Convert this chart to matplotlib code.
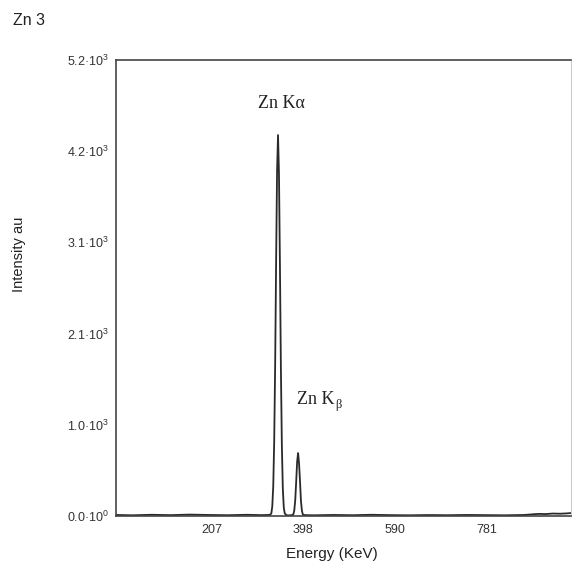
import matplotlib.pyplot as plt

# EDX spectrum of sample "Zn 3"

energy = [6, 40, 80, 120, 160, 200, 240, 280, 310, 325, 329,
          331, 333, 335, 337, 339, 341, 343, 345, 347, 349, 351, 353, 355, 357, 359,
          362, 366, 370, 374,
          377, 379, 381, 383, 385, 387, 389, 391, 393, 395, 397,
          401, 420, 460, 500, 540, 580, 620, 660, 700, 740, 780, 820, 860,
          875, 890, 905, 920, 935, 950, 958]
intensity = [12, 8, 14, 10, 16, 12, 9, 14, 10, 12, 16,
             30, 110, 340, 850, 1720, 2890, 3930, 4344, 3900, 2860, 1690, 820, 320, 100, 30,
             12, 6, 8, 10,
             18, 62, 180, 390, 620, 718, 600, 395, 170, 60, 16,
             10, 8, 12, 9, 14, 10, 8, 11, 9, 12, 10, 8, 12,
             18, 24, 22, 28, 26, 30, 34]

y_ticks = [0, 1040, 2080, 3120, 4160, 5200]
y_labels = ["0.0·10$^0$", "1.0·10$^3$", "2.1·10$^3$", "3.1·10$^3$", "4.2·10$^3$", "5.2·10$^3$"]
x_ticks = [207, 398, 590, 781]
x_labels = ["207", "398", "590", "781"]

plt.rcParams['font.family'] = ['Liberation Sans', 'DejaVu Sans']
plt.rcParams['mathtext.fontset'] = 'custom'
plt.rcParams['mathtext.rm'] = 'Liberation Sans'

W, H = 572, 567
fig = plt.figure(figsize=(W / 100, H / 100), dpi=100)
ax = fig.add_axes([116 / W, 1 - 516 / H, (571 - 116) / W, (516 - 60) / H])

ax.plot(energy, intensity, color='#2a2a2a', lw=1.3)

ax.set_xlim(6, 958)
ax.set_ylim(0, 5200)
ax.set_yticks(y_ticks)
ax.set_yticklabels(y_labels)
ax.set_xticks(x_ticks)
ax.set_xticklabels(x_labels)
ax.tick_params(length=0, labelsize=9, colors='#333333')
ax.tick_params(axis='y', pad=5)
ax.tick_params(axis='x', pad=6)
for side in ['left', 'bottom', 'top']:
    ax.spines[side].set_color('#444444')
    ax.spines[side].set_linewidth(1.2)
ax.spines['right'].set_color('#cccccc')
ax.spines['right'].set_linewidth(0.8)

# peak labels
serif = ['Liberation Serif', 'DejaVu Serif']
ax.text(303, 4652, "Zn Kα", family=serif, fontsize=13, va='baseline', color='#222222')
t = ax.text(385, 1277, "Zn K", family=serif, fontsize=13, va='baseline', color='#222222')
ax.annotate("β", xy=(1, 0), xycoords=t, xytext=(0.5, -2), textcoords='offset points',
            family=serif, fontsize=9, va='bottom', ha='left', color='#222222')

fig.text(13 / W, 1 - 25 / H, "Zn 3", fontsize=11.5, va='baseline', color='#222222')
fig.text(19 / W, 1 - 254 / H, "Intensity au", fontsize=10.5, rotation=90,
         ha='center', va='center', color='#222222')
fig.text(332 / W, 1 - 554 / H, "Energy (KeV)", fontsize=11, ha='center', va='center',
         color='#222222')

fig.savefig('out.png', dpi=100)
